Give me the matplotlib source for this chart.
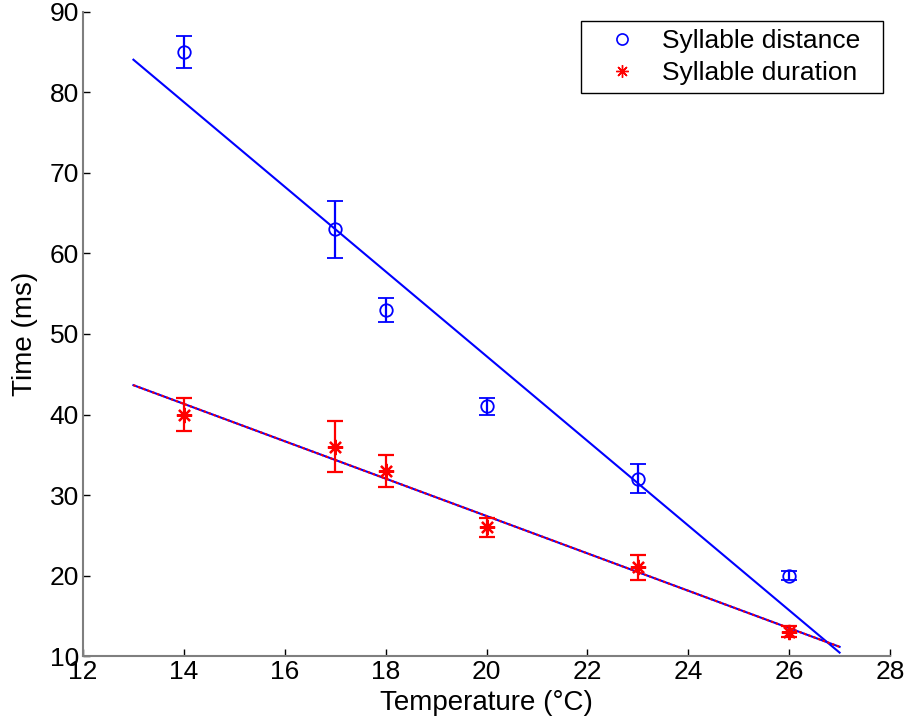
import numpy as np
import matplotlib
matplotlib.use("Agg")
import matplotlib.pyplot as plt
from matplotlib.lines import Line2D

plt.rcParams['font.family'] = ['Liberation Sans', 'DejaVu Sans']

temps = [14, 17, 18, 20, 23, 26]
dist = [85, 63, 53, 41, 32, 20]
dist_err = [2.0, 3.5, 1.5, 1.0, 1.8, 0.6]
dur = [40, 36, 33, 26, 21, 13]
dur_err = [2.0, 3.2, 2.0, 1.2, 1.6, 0.7]
fit_range = [13, 27]
xticks = [12, 14, 16, 18, 20, 22, 24, 26, 28]
yticks = [10, 20, 30, 40, 50, 60, 70, 80, 90]
series_labels = ['Syllable distance', 'Syllable duration']

fig = plt.figure(figsize=(9.07, 7.26), dpi=100)
ax = fig.add_axes([0.0915, 0.0964, 0.8898, 0.8871])

blue = '#0000ff'
red = '#ff0000'
ast = (8, 2, 0)

ax.errorbar(temps, dist, yerr=dist_err, fmt='o', color=blue, mfc='none',
            mec=blue, ms=9, mew=1.3, capsize=6, elinewidth=1.6, capthick=1.6,
            zorder=3)
ax.errorbar(temps, dur, yerr=dur_err, fmt='none', ecolor=red,
            capsize=6, elinewidth=1.6, capthick=1.6, zorder=3)
ax.plot(temps, dur, ls='none', marker=ast, ms=11, mew=1.6, color=red, zorder=4)

xf = np.array(fit_range, dtype=float)
p1 = np.polyfit(temps, dist, 1)
p2 = np.polyfit(temps, dur, 1)
ax.plot(xf, np.polyval(p1, xf), color=blue, lw=1.5, zorder=2)
ax.plot(xf, np.polyval(p2, xf), color=blue, lw=1.5, zorder=2)
ax.plot(xf, np.polyval(p2, xf), color=red, lw=1.5, ls=(0, (1.2, 1.2)), zorder=2)

ax.set_xlim(12, 28)
ax.set_ylim(10, 90)
ax.set_xticks(xticks)
ax.set_yticks(yticks)
ax.tick_params(direction='in', length=5, labelsize=19, width=1, color='black', pad=3)
for s in ['top', 'right']:
    ax.spines[s].set_visible(False)
for s in ['left', 'bottom']:
    ax.spines[s].set_color('#7f7f7f')
    ax.spines[s].set_linewidth(1.5)

ax.set_xlabel('Temperature (°C)', fontsize=20, labelpad=4)
ax.set_ylabel('Time (ms)', fontsize=20, labelpad=8)

h1 = Line2D([], [], marker='o', ls='none', mfc='none', mec=blue, ms=8, mew=1.2)
h2 = Line2D([], [], marker=ast, ls='none', color=red, ms=9, mew=1.0)
leg = ax.legend([h1, h2], [lab + '  ' for lab in series_labels],
                loc='upper right', bbox_to_anchor=(0.991, 0.986), fontsize=19,
                frameon=True, fancybox=False, edgecolor='black', framealpha=1,
                borderaxespad=0, handlelength=2.5, handletextpad=0.25,
                labelspacing=0.3, borderpad=0.3)
leg.get_frame().set_linewidth(1.0)

fig.savefig('out.png', dpi=100)
